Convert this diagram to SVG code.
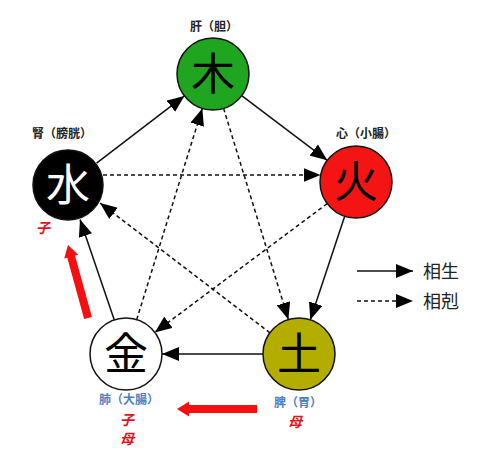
<svg xmlns="http://www.w3.org/2000/svg" width="500" height="476" viewBox="0 0 500 476">
<style>
.node{stroke:#111;stroke-width:1.5}
.big{font-family:"Noto Sans CJK JP","Noto Sans CJK SC",sans-serif;font-size:44px;text-anchor:middle}
.lbl{font-family:"Noto Sans CJK JP","Noto Sans CJK SC",sans-serif;font-size:12px;font-weight:bold;text-anchor:middle;fill:#222}
.blue{fill:#4f7fc0}
.red{font-family:"Noto Sans CJK JP","Noto Sans CJK SC",sans-serif;font-size:14px;font-weight:bold;text-anchor:middle;fill:#e0141c;font-style:italic}
.leg{font-family:"Noto Sans CJK JP","Noto Sans CJK SC",sans-serif;font-size:18px;fill:#222}
.s{stroke:#111;stroke-width:1.5;fill:none;marker-end:url(#ah)}
.d{stroke:#111;stroke-width:1.5;fill:none;stroke-dasharray:4 3;marker-end:url(#ah)}
</style>
<defs>
<marker id="ah" markerWidth="17" markerHeight="14" refX="17" refY="7" orient="auto" markerUnits="userSpaceOnUse">
<path d="M0,0 L17,7 L0,14 z" fill="#000"/>
</marker>
</defs>
<rect width="500" height="476" fill="#fff"/>
<g id="connectors">
<line class="s" x1="96.6" y1="163.1" x2="184.4" y2="95.9"/>
<line class="s" x1="241.7" y1="95.7" x2="327.3" y2="160.3"/>
<line class="s" x1="344.7" y1="216.2" x2="310.3" y2="319.8"/>
<line class="s" x1="263" y1="354" x2="162" y2="354"/>
<line class="s" x1="114.3" y1="319.9" x2="80" y2="219.5"/>
<line class="d" x1="103" y1="175" x2="320.5" y2="175"/>
<line class="d" x1="327.2" y1="203.6" x2="154.8" y2="332.4"/>
<line class="d" x1="136.7" y1="319.6" x2="202.3" y2="108.4"/>
<line class="d" x1="223.6" y1="108.4" x2="288.4" y2="319.6"/>
<line class="d" x1="270" y1="332.8" x2="100" y2="203"/>
<polygon fill="#f50f0f" points="84.1,319.1 67.3,257.7 64.2,258.5 68,245 78.2,254.7 75,255.5 91.9,316.9"/>
<polygon fill="#f50f0f" points="257,405 189,405 189,401.5 177,409 189,416.5 189,413 257,413"/>
</g>
<g id="wood">
<circle class="node" cx="213" cy="74" r="36" fill="#1fa51f"/>
<text class="big" x="213" y="90" fill="#000">木</text>
<text class="lbl" x="214" y="31">肝（胆）</text>
</g>
<g id="fire">
<circle class="node" cx="356" cy="182" r="36" fill="#f41414"/>
<text class="big" x="356" y="198" fill="#000">火</text>
<text class="lbl" x="366" y="138">心（小腸）</text>
</g>
<g id="earth">
<circle class="node" cx="299" cy="354" r="36" fill="#b3ad00"/>
<text class="big" x="299" y="370" fill="#000">土</text>
<text class="lbl blue" x="298" y="407">脾（胃）</text>
<text class="red" x="295" y="427">母</text>
</g>
<g id="metal">
<circle class="node" cx="126" cy="354" r="36" fill="#fff"/>
<text class="big" x="126" y="370" fill="#000">金</text>
<text class="lbl blue" x="129" y="404">肺（大腸）</text>
<text class="red" x="127" y="425">子</text>
<text class="red" x="127" y="444">母</text>
</g>
<g id="water">
<circle class="node" cx="68" cy="185" r="35" fill="#000"/>
<text class="big" x="68" y="201" fill="#fff">水</text>
<text class="lbl" x="62" y="138">腎（膀胱）</text>
<text class="red" x="43" y="233">子</text>
</g>
<g id="legend">
<line class="s" x1="357" y1="271" x2="413" y2="271"/>
<line class="d" x1="357" y1="301" x2="413" y2="301"/>
<text class="leg" x="423" y="278">相生</text>
<text class="leg" x="423" y="308">相剋</text>
</g>
</svg>
